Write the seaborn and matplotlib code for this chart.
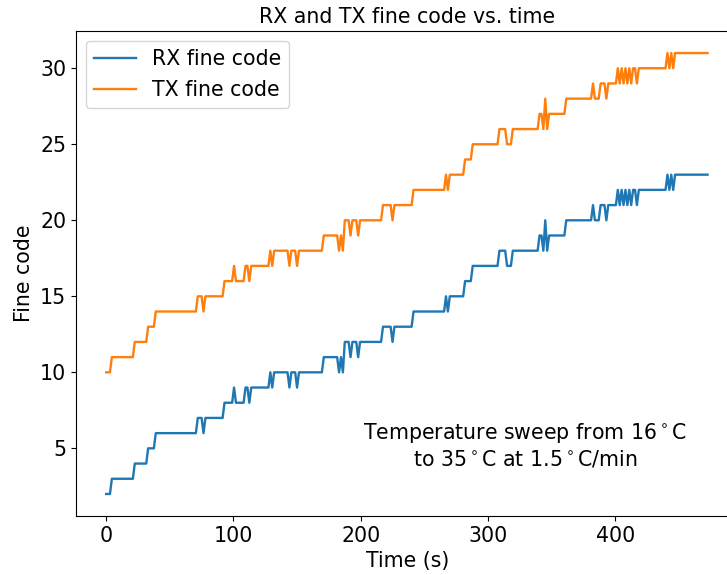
import numpy as np
import pandas as pd
import matplotlib
matplotlib.use("Agg")
import matplotlib.pyplot as plt
import seaborn as sns

# Fine-code readings: time (s) at which each code change was logged, and the new code
change_time = [0, 4.5, 22.5, 32, 39, 72, 76, 77.5, 93, 99.5, 101, 109, 112.5, 114,
               129, 130.5, 132, 144, 145.5, 150, 151.5, 170.5, 183, 184.5, 186, 187.5,
               191, 192.5, 197, 198.5, 217, 224, 225.5, 241, 266, 267.5, 269, 281, 287,
               309, 314, 319, 339.5, 343.5, 345, 346.5, 348, 361, 382, 383.5, 388.5,
               393, 394.5, 401.5, 403, 404.5, 406, 407.5, 409, 410.5, 412, 413.5, 416.5,
               418, 440, 442, 443.5, 445, 447]
rx_code = [2, 3, 4, 5, 6, 7, 6, 7, 8, 9, 8, 9, 8, 9,
           10, 9, 10, 9, 10, 9, 10, 11, 10, 11, 10, 12,
           11, 12, 11, 12, 13, 12, 13, 14, 15, 14, 15, 16, 17,
           18, 17, 18, 19, 18, 20, 18, 19, 20, 21, 20, 21,
           20, 21, 22, 21, 22, 21, 22, 21, 22, 21, 22, 21,
           22, 23, 22, 23, 22, 23]
tx_code = [10, 11, 12, 13, 14, 15, 14, 15, 16, 17, 16, 17, 16, 17,
           18, 17, 18, 17, 18, 17, 18, 19, 18, 19, 18, 20,
           19, 20, 19, 20, 21, 20, 21, 22, 23, 22, 23, 24, 25,
           26, 25, 26, 27, 26, 28, 26, 27, 28, 29, 28, 29,
           28, 29, 30, 29, 30, 29, 30, 29, 30, 29, 30, 29,
           30, 31, 30, 31, 30, 31]
sample_period = 1.5
sweep_end = 474.0

# Codes are held between changes; rebuild the logged samples
t = np.arange(0, sweep_end, sample_period)
idx = np.searchsorted(np.asarray(change_time), t, side="right") - 1
df = pd.DataFrame({
    "Time (s)": np.concatenate([t, t]),
    "Fine code": np.concatenate([np.asarray(rx_code)[idx], np.asarray(tx_code)[idx]]),
    "series": ["RX fine code"] * len(t) + ["TX fine code"] * len(t),
})

fig = plt.figure(figsize=(7.27, 5.75), dpi=100)
ax = fig.add_axes([0.1045, 0.1026, 0.912, 0.8435])

sns.lineplot(data=df, x="Time (s)", y="Fine code", hue="series",
             palette=["#1f77b4", "#ff7f0e"], estimator=None, linewidth=1.7, ax=ax)

fs = 14.8
ax.set_xlim(-23.7, 497.2)
ax.set_ylim(0.55, 32.45)
ax.set_xticks([0, 100, 200, 300, 400])
ax.set_yticks([5, 10, 15, 20, 25, 30])
ax.tick_params(labelsize=fs)
ax.set_xlabel("Time (s)", fontsize=fs)
ax.set_ylabel("Fine code", fontsize=fs)
ax.set_title("RX and TX fine code vs. time", fontsize=fs)

leg = ax.legend(loc="upper left", fontsize=fs, title=None)

ax.text(329, 5.2, "Temperature sweep from 16$^\\circ$C\nto 35$^\\circ$C at 1.5$^\\circ$C/min",
        ha="center", va="center", fontsize=fs)

fig.savefig("out.png", dpi=100)
